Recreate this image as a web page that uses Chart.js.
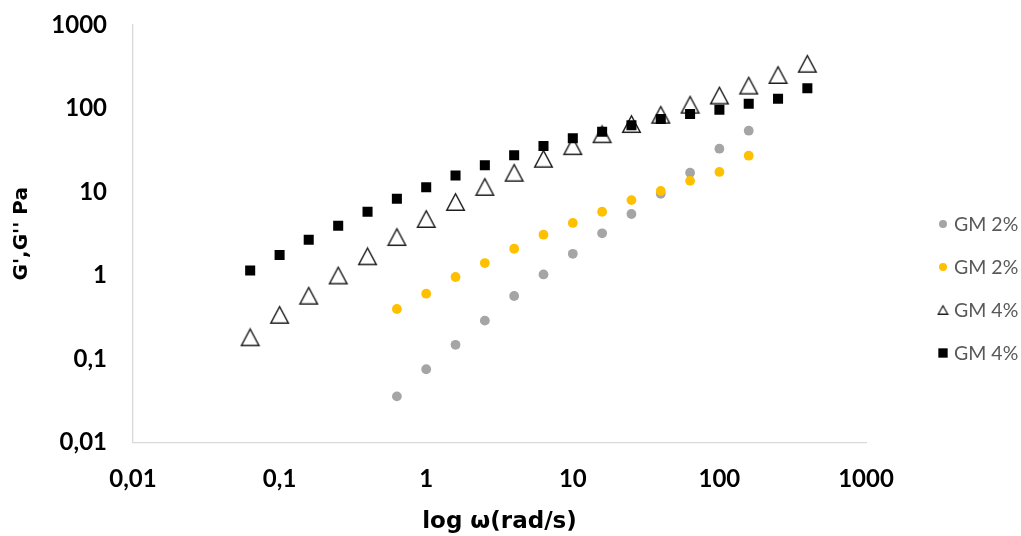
<!DOCTYPE html>
<html><head><meta charset="utf-8">
<script src="https://cdn.jsdelivr.net/npm/chart.js@4/dist/chart.umd.min.js"></script>
<style>html,body{margin:0;padding:0;background:#fff}#wrap{width:1021px;height:536px}</style>
</head><body><div id="wrap"><canvas id="c" width="1021" height="536"></canvas></div>
<script>
// ---- data ----
const omegaAll = [0.063, 0.1, 0.158, 0.251, 0.398, 0.631, 1, 1.585, 2.512, 3.981, 6.31, 10, 15.85, 25.12, 39.81, 63.1, 100, 158.5, 251.2, 398.1];
const omega2 = [0.631, 1, 1.585, 2.512, 3.981, 6.31, 10, 15.85, 25.12, 39.81, 63.1, 100, 158.5];
const gm2Grey = [0.0357, 0.0754, 0.148, 0.288, 0.568, 1.03, 1.82, 3.2, 5.45, 9.5, 17.0, 33.0, 54.2];
const gm2Orange = [0.397, 0.605, 0.96, 1.41, 2.09, 3.08, 4.26, 5.8, 8.0, 10.3, 13.6, 17.4, 27.2];
const gm4Tri = [0.182, 0.338, 0.573, 1.0, 1.70, 2.89, 4.75, 7.6, 11.5, 17.0, 25.0, 35.4, 49.2, 65.2, 84.1, 111, 143, 188, 252, 343];
const gm4Sq = [1.15, 1.76, 2.68, 3.95, 5.81, 8.3, 11.4, 15.8, 20.9, 27.6, 35.6, 44, 52.7, 62.9, 74.9, 85.9, 96.8, 114, 131, 175];
const seriesNames = ['GM 2%', 'GM 2%', 'GM 4%', 'GM 4%'];
const tickValues = [0.01, 0.1, 1, 10, 100, 1000];
const tickLabels = ['0,01', '0,1', '1', '10', '100', '1000'];
const xTitle = 'log ω(rad/s)';
const yTitle = "G',G'' Pa";

// ---- helpers ----
function pts(xs, ys) { return ys.map((v, i) => ({ x: xs[i], y: v })); }
function makeTriangle(w, h, lw, color) {
  const c = document.createElement('canvas');
  c.width = Math.ceil(w + lw * 2); c.height = Math.ceil(h + lw * 2);
  const g = c.getContext('2d');
  const ox = (c.width - w) / 2, oy = (c.height - h) / 2;
  g.beginPath();
  g.moveTo(ox + w / 2, oy);
  g.lineTo(ox + w, oy + h);
  g.lineTo(ox, oy + h);
  g.closePath();
  g.fillStyle = '#ffffff'; g.fill();
  g.lineWidth = lw; g.strokeStyle = color; g.lineJoin = 'miter'; g.stroke();
  return c;
}
const triBig = makeTriangle(17.5, 16.5, 1.5, '#1f1f1f');
const triSmall = makeTriangle(9.5, 8.5, 1.3, '#1f1f1f');

const datasets = [
  { label: seriesNames[0], data: pts(omega2, gm2Grey), pointStyle: 'circle', pointRadius: 4.9, pointBorderWidth: 0,
    backgroundColor: '#A5A5A5', borderColor: '#A5A5A5', order: 4, legendStyle: 'circle', legendRadius: 4, legendBorder: 0 },
  { label: seriesNames[1], data: pts(omega2, gm2Orange), pointStyle: 'circle', pointRadius: 4.9, pointBorderWidth: 0,
    backgroundColor: '#FFC000', borderColor: '#FFC000', order: 3, legendStyle: 'circle', legendRadius: 4, legendBorder: 0 },
  { label: seriesNames[2], data: pts(omegaAll, gm4Tri), pointStyle: triBig, pointRadius: 9, pointBorderWidth: 0,
    backgroundColor: '#ffffff', borderColor: '#1f1f1f', order: 2, legendStyle: triSmall, legendRadius: 5, legendBorder: 0 },
  { label: seriesNames[3], data: pts(omegaAll, gm4Sq), pointStyle: 'rect', pointRadius: 7.1, pointBorderWidth: 0,
    backgroundColor: '#000000', borderColor: '#000000', order: 1, legendStyle: 'rect', legendRadius: 6.6, legendBorder: 0 }
];

const sideLegend = {
  id: 'sideLegend',
  afterDraw(chart) {
    const ctx = chart.ctx;
    const ys = [224, 267, 310, 353];
    chart.data.datasets.forEach((ds, i) => {
      ctx.save();
      ctx.fillStyle = ds.backgroundColor;
      ctx.strokeStyle = ds.borderColor;
      Chart.helpers.drawPoint(ctx, { pointStyle: ds.legendStyle, radius: ds.legendRadius, rotation: 0, borderWidth: ds.legendBorder }, 943, ys[i]);
      ctx.fillStyle = '#595959';
      ctx.font = '19.5px Lato';
      ctx.textBaseline = 'middle';
      ctx.textAlign = 'left';
      ctx.fillText(ds.label, 954, ys[i] + 1);
      ctx.restore();
    });
  }
};

const tickFont = { family: 'Lato', size: 24, weight: 'bold' };

new Chart(document.getElementById('c'), {
  type: 'scatter',
  data: { datasets },
  options: {
    responsive: false,
    animation: false,
    events: [],
    layout: { padding: { left: 0, top: 25, right: 155, bottom: 0 } },
    plugins: { legend: { display: false }, tooltip: { enabled: false } },
    scales: {
      x: {
        type: 'logarithmic', min: 0.01, max: 1000,
        afterBuildTicks(s) { s.ticks = tickValues.map(v => ({ value: v })); },
        afterFit(s) { s.height = 93.5; s.paddingLeft = 20; s.paddingRight = 20; },
        grid: { display: false, drawTicks: false },
        border: { display: true, color: '#D9D9D9', width: 1.3 },
        ticks: { autoSkip: false, maxRotation: 0, padding: 22, color: '#000', font: tickFont,
          callback: (v, i) => tickLabels[i] },
        title: { display: true, text: xTitle, color: '#000', font: { family: 'DejaVu Sans', size: 23, weight: 'bold' }, padding: { top: 0, bottom: 0 } }
      },
      y: {
        type: 'logarithmic', min: 0.01, max: 1000,
        afterBuildTicks(s) { s.ticks = tickValues.map(v => ({ value: v })); },
        afterFit(s) { s.width = 133; s.paddingTop = 12; s.paddingBottom = 12; },
        grid: { display: false, drawTicks: false },
        border: { display: true, color: '#D9D9D9', width: 1.3 },
        ticks: { autoSkip: false, padding: 26, color: '#000', font: tickFont,
          callback: (v, i) => tickLabels[i] },
        title: { display: true, text: yTitle, color: '#000', font: { family: 'DejaVu Sans', size: 20, weight: 'bold' }, padding: { top: 10, bottom: 0 } }
      }
    }
  },
  plugins: [sideLegend]
});
</script></body></html>
